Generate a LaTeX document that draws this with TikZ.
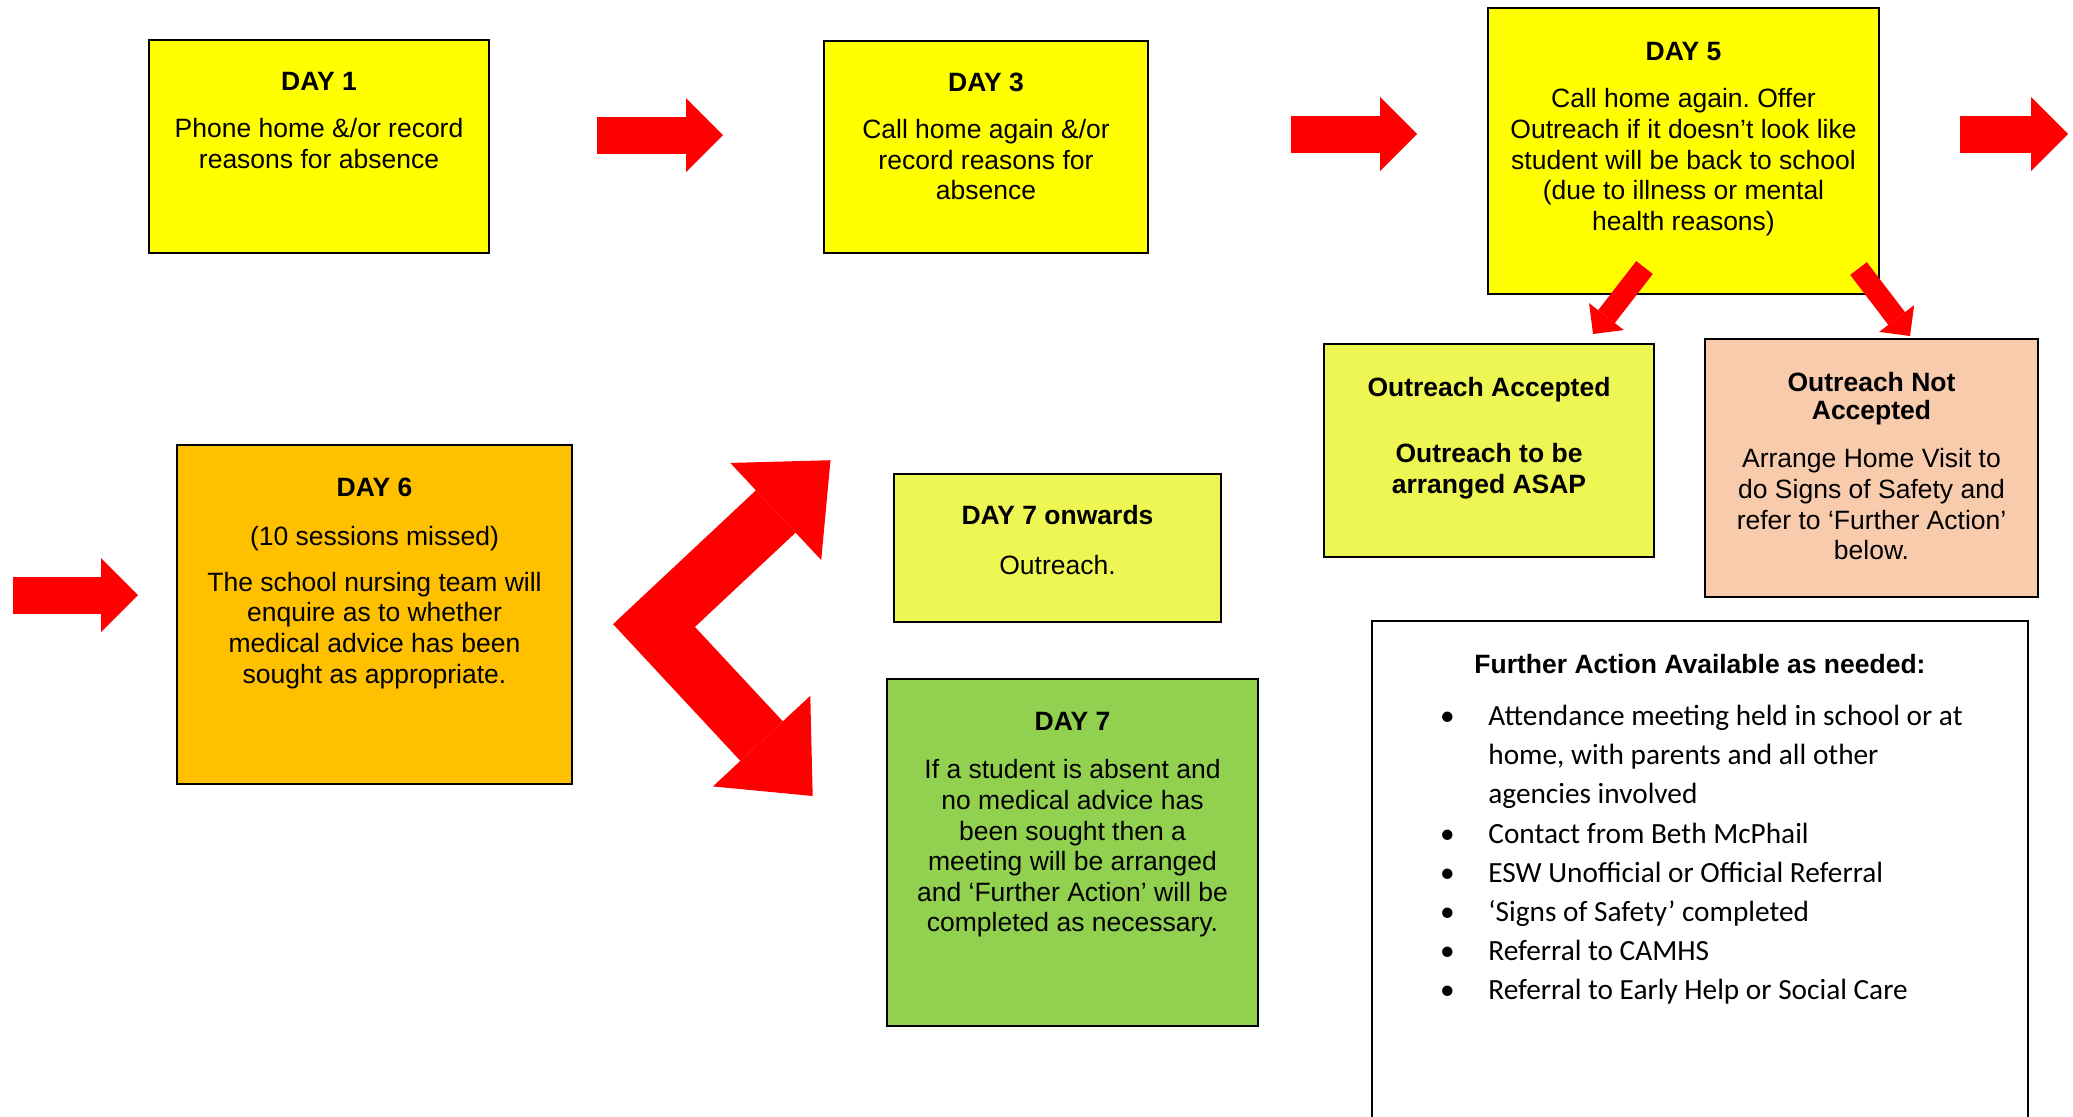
\documentclass[tikz,border=0pt]{standalone}
\usepackage{fontspec}
\setmainfont{Liberation Sans}
\newfontfamily\calibrifont{Carlito}
\usetikzlibrary{arrows.meta}
\frenchspacing

\definecolor{dayyellow}{HTML}{FFFF00}
\definecolor{paleyellow}{HTML}{EEF653}
\definecolor{dayorange}{HTML}{FFC000}
\definecolor{peach}{HTML}{F8CBAD}
\definecolor{daygreen}{HTML}{92D050}
\definecolor{arrowred}{HTML}{FF0000}

\begin{document}
\begin{tikzpicture}[x=0.5pt, y=-0.5pt,
    every node/.style={align=center, inner sep=0pt},
    box/.style={draw=black, line width=1.1pt},
    txt/.style={anchor=base, font=\fontsize{13.25pt}{15.3pt}\selectfont},
    bigarrow/.style={draw=arrowred, line width=18.5pt,
        -{Triangle[length=18.5pt, width=37pt, line width=0pt]}},
    smallarrow/.style={draw=arrowred, line width=10.5pt,
        -{Triangle[length=11pt, width=22pt, line width=0pt]}},
    twoway/.style={draw=arrowred, line width=29pt, line join=miter,
        {Triangle[length=37.5pt, width=66.5pt, line width=0pt]}-{Triangle[length=37.5pt, width=66.5pt, line width=0pt]}}]
    \useasboundingbox (0,0) rectangle (2073,1116);

    % Day 1 (text nodes sit on the baseline of their last line)
    \node[box, fill=dayyellow, minimum width=170pt, minimum height=106.5pt] (day1) at (319,146.5) {};
    \node[txt] (day1txt) at (319,168) {\textbf{DAY 1}\\[8.2pt] Phone home \&/or record\\ reasons for absence};

    % Day 3
    \node[box, fill=dayyellow, minimum width=162pt, minimum height=106pt] (day3) at (986,147) {};
    \node[txt] (day3txt) at (986,199.7) {\textbf{DAY 3}\\[8pt] Call home again \&/or\\ record reasons for\\ absence};

    % Day 5
    \node[box, fill=dayyellow, minimum width=195.5pt, minimum height=143pt] (day5) at (1683.5,151) {};
    \node[txt] (day5txt) at (1683.5,230.2) {\textbf{DAY 5}\\[8.5pt] Call home again. Offer\\ Outreach if it doesn’t look like\\ student will be back to school\\ (due to illness or mental\\ health reasons)};

    % Outreach accepted / not accepted
    \node[box, fill=paleyellow, minimum width=165pt, minimum height=106.5pt] (acc) at (1489,450.5) {};
    \node[txt] (acctxt) at (1489,493) {\textbf{Outreach Accepted}\\[17.5pt] \textbf{Outreach to be}\\ \textbf{arranged ASAP}};
    \node[box, fill=peach, minimum width=166.5pt, minimum height=129pt] (notacc) at (1871.5,468) {};
    \node[txt] (notacctxt) at (1871.5,559.7) {\textbf{Outreach Not}\\[-1pt] \textbf{Accepted}\\[8.8pt] Arrange Home Visit to\\ do Signs of Safety and\\ refer to ‘Further Action’\\ below.};

    % Day 6
    \node[box, fill=dayorange, minimum width=197.5pt, minimum height=169.5pt] (day6) at (374.5,614.5) {};
    \node[txt] (day6txt) at (374.5,683) {\textbf{DAY 6}\\[9.1pt] (10 sessions missed)\\[7.5pt] The school nursing team will\\ enquire as to whether\\ medical advice has been\\ sought as appropriate.};

    % Day 7 onwards / Day 7
    \node[box, fill=paleyellow, minimum width=163.5pt, minimum height=74pt] (day7on) at (1057.5,548) {};
    \node[txt] (day7ontxt) at (1057.5,574) {\textbf{DAY 7 onwards}\\[9.7pt] Outreach.};
    \node[box, fill=daygreen, minimum width=185.5pt, minimum height=173.5pt] (day7) at (1072.5,852.5) {};
    \node[txt] (day7txt) at (1072.5,931.9) {\textbf{DAY 7}\\[8.7pt] If a student is absent and\\ no medical advice has\\ been sought then a\\ meeting will be arranged\\ and ‘Further Action’ will be\\ completed as necessary.};

    % Further action
    \node[box, fill=white, minimum width=328pt, minimum height=259.5pt] (further) at (1700,880.5) {};
    \node[txt] (furthertxt) at (1700,673) {\textbf{Further Action Available as needed:}};
    \node[anchor=base west, font=\calibrifont\fontsize{14.65pt}{19.6pt}\selectfont] (falist) at (1406,725.5) {%
      \begin{tabular}[t]{@{}l@{}l@{}}
        \makebox[41pt]{•} & Attendance meeting held in school or at\\
        & home, with parents and all other\\
        & agencies involved\\
        \makebox[41pt]{•} & Contact from Beth McPhail\\
        \makebox[41pt]{•} & ESW Unofficial or Official Referral\\
        \makebox[41pt]{•} & ‘Signs of Safety’ completed\\
        \makebox[41pt]{•} & Referral to CAMHS\\
        \makebox[41pt]{•} & Referral to Early Help or Social Care
      \end{tabular}};

    % Block arrows
    \coordinate (a1s) at (597,135);
    \coordinate (a1e) at (723,135);
    \coordinate (a2s) at (1291,134);
    \coordinate (a2e) at (1417,134);
    \coordinate (a3s) at (1960,134);
    \coordinate (a3e) at (2068,134);
    \coordinate (a4s) at (13,595);
    \coordinate (a4e) at (138,595);
    \draw[bigarrow] (a1s) -- (a1e);
    \draw[bigarrow] (a2s) -- (a2e);
    \draw[bigarrow] (a3s) -- (a3e);
    \draw[bigarrow] (a4s) -- (a4e);

    % Day 5 split
    \coordinate (s1s) at (1644.5,267.5);
    \coordinate (s1e) at (1593,334);
    \coordinate (s2s) at (1858.5,268.5);
    \coordinate (s2e) at (1910,336);
    \draw[smallarrow] (s1s) -- (s1e);
    \draw[smallarrow] (s2s) -- (s2e);

    % Day 6 split
    \coordinate (up) at (830.5,460.2);
    \coordinate (bend) at (654,625.5);
    \coordinate (down) at (812.7,796);
    \draw[twoway] (up) -- (bend) -- (down);
\end{tikzpicture}
\end{document}
